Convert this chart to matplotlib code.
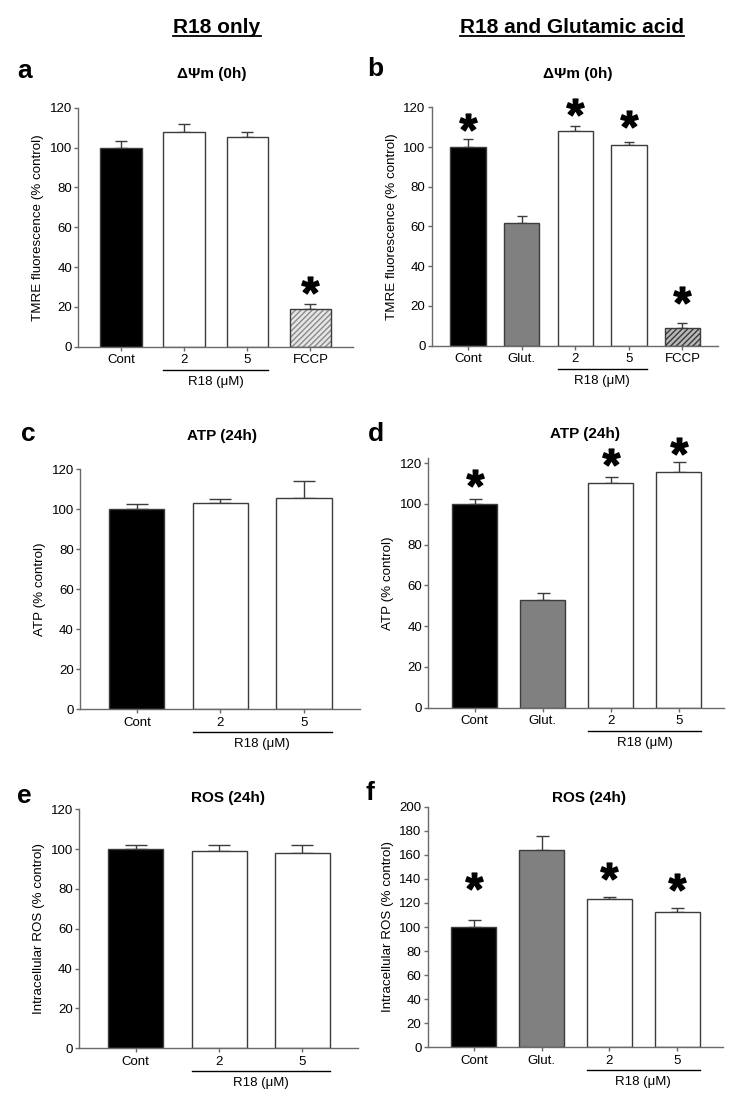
import matplotlib
matplotlib.use('Agg')
import matplotlib.pyplot as plt
import numpy as np
from matplotlib.textpath import TextPath
from matplotlib.path import Path
from matplotlib.font_manager import FontProperties
from matplotlib.lines import Line2D
from matplotlib.transforms import offset_copy

plt.rcParams['font.family'] = ['Liberation Sans', 'DejaVu Sans']

# ---------------- data ----------------
cats_a = ['Cont', '2', '5', 'FCCP']
mean_a = [100, 107.6, 105.1, 19.1]
err_a = [3.4, 4.0, 2.9, 2.2]
sig_a = [False, False, False, True]

cats_b = ['Cont', 'Glut.', '2', '5', 'FCCP']
mean_b = [100.2, 61.9, 108.3, 101.2, 9.1]
err_b = [3.9, 3.4, 2.5, 1.4, 2.1]
sig_b = [True, False, True, True, True]

cats_c = ['Cont', '2', '5']
mean_c = [100, 103, 105.8]
err_c = [2.8, 2.0, 8.5]
sig_c = [False, False, False]

cats_d = ['Cont', 'Glut.', '2', '5']
mean_d = [99.9, 52.9, 110.5, 115.6]
err_d = [2.5, 3.3, 2.5, 4.9]
sig_d = [True, False, True, True]

cats_e = ['Cont', '2', '5']
mean_e = [99.9, 99.2, 98.2]
err_e = [2.0, 3.0, 3.7]
sig_e = [False, False, False]

cats_f = ['Cont', 'Glut.', '2', '5']
mean_f = [99.7, 164, 123.5, 112.7]
err_f = [6.1, 11.9, 1.7, 3.1]
sig_f = [True, False, True, True]

titles = {'a': 'ΔΨm (0h)', 'b': 'ΔΨm (0h)', 'c': 'ATP (24h)',
          'd': 'ATP (24h)', 'e': 'ROS (24h)', 'f': 'ROS (24h)'}
ylabels = {'a': 'TMRE fluorescence (% control)', 'b': 'TMRE fluorescence (% control)',
           'c': 'ATP (% control)', 'd': 'ATP (% control)',
           'e': 'Intracellular ROS (% control)', 'f': 'Intracellular ROS (% control)'}
group_label = 'R18 (μM)'
col_headers = ['R18 only', 'R18 and Glutamic acid']

# ---------------- style / layout ----------------
W, H = 735, 1099
fig = plt.figure(figsize=(W / 100, H / 100), dpi=100)

# (left, right, top, bottom) in pixels, plus ylim top and tick step
layout = {
    'a': ((78.3, 352.7, 107.7, 346.7), 120, 20),
    'b': ((431.7, 718.3, 107.3, 345.7), 120, 20),
    'c': ((80.0, 360.0, 469.3, 709.3), 120, 20),
    'd': ((428.3, 724.3, 458.3, 707.7), 122.4, 20),
    'e': ((79.0, 358.3, 809.3, 1048.3), 120, 20),
    'f': ((427.7, 722.7, 806.7, 1047.3), 200, 20),
}
capsize_px = {'a': 12, 'b': 10, 'c': 23, 'd': 13, 'e': 22, 'f': 13}
star_gap_px = {'a': [19], 'b': [17, 19, 23, 28], 'd': [21, 20, 16], 'f': [39, 26, 26]}
letter_pos = {'a': (17, 78.5), 'b': (367, 76.5), 'c': (21, 441), 'd': (368, 441),
              'e': (17, 803), 'f': (366, 800)}
title_pos = {'a': (211.5, 78.3), 'b': (578, 78.3), 'c': (221.5, 440), 'd': (585, 438),
             'e': (228, 802), 'f': (588.5, 802)}

panels = {
    'a': (cats_a, mean_a, err_a, sig_a),
    'b': (cats_b, mean_b, err_b, sig_b),
    'c': (cats_c, mean_c, err_c, sig_c),
    'd': (cats_d, mean_d, err_d, sig_d),
    'e': (cats_e, mean_e, err_e, sig_e),
    'f': (cats_f, mean_f, err_f, sig_f),
}

AX_COL = '#6a6a6a'
EDGE = '#3c3c3c'
BW = 0.66

# star marker path (bold asterisk, centered)
fp_star = FontProperties(family='Liberation Sans', weight='bold')
tp = TextPath((0, 0), '*', prop=fp_star, size=1)
codes = tp.codes
verts = np.array(tp.vertices, dtype=float)
real = codes != Path.CLOSEPOLY
cx = (verts[real, 0].min() + verts[real, 0].max()) / 2
cy = (verts[real, 1].min() + verts[real, 1].max()) / 2
verts = verts - [cx, cy]
verts[~real] = 0.0
star_path = Path(verts, codes)


def fy(y):
    return 1 - y / H


def fx(x):
    return x / W


for key, (cats, mean, err, sig) in panels.items():
    (l, r, t, b), ytop, step = layout[key]
    ax = fig.add_axes([fx(l), fy(b), (r - l) / W, (b - t) / H])
    n = len(cats)
    x = np.arange(n)
    for i, c in enumerate(cats):
        if c == 'Cont':
            ax.bar(i, mean[i], BW, color='black', edgecolor=EDGE, linewidth=1, zorder=2)
        elif c.startswith('Glut'):
            ax.bar(i, mean[i], BW, color='#808080', edgecolor=EDGE, linewidth=1, zorder=2)
        elif c == 'FCCP':
            if key == 'a':
                fc, hc = '#e6e6e6', '#8a8a8a'
            else:
                fc, hc = '#b8b8b8', '#3a3a3a'
            ax.bar(i, mean[i], BW, color=fc, edgecolor=hc, linewidth=0,
                   hatch='//////', zorder=2)
            ax.bar(i, mean[i], BW, fill=False, edgecolor=EDGE, linewidth=1, zorder=3)
        else:
            ax.bar(i, mean[i], BW, color='white', edgecolor=EDGE, linewidth=1, zorder=2)
    cap_pt = capsize_px[key] / 2 * 0.72
    ax.errorbar(x, mean, yerr=[np.zeros(n), err], fmt='none', ecolor=EDGE,
                elinewidth=1, capsize=cap_pt, capthick=1, zorder=1)
    # significance stars
    gaps = star_gap_px.get(key, [])
    k = 0
    for i in range(n):
        if sig[i]:
            tr = offset_copy(ax.transData, fig=fig, x=0, y=gaps[k], units='dots')
            ax.plot([i], [mean[i] + err[i]], marker=star_path, markersize=12.5,
                    color='black', linestyle='none', transform=tr, clip_on=False, zorder=5)
            k += 1
    ax.set_xlim(-0.68, n - 1 + 0.67)
    ax.set_ylim(0, ytop)
    ax.set_yticks(np.arange(0, ytop + 0.1, step))
    ax.set_xticks(x)
    ax.set_xticklabels(cats)
    for s in ['top', 'right']:
        ax.spines[s].set_visible(False)
    for s in ['left', 'bottom']:
        ax.spines[s].set_color(AX_COL)
        ax.spines[s].set_linewidth(1)
    ax.tick_params(axis='both', colors=AX_COL, labelcolor='black', labelsize=9.5,
                   length=3, width=1, direction='out')
    ax.tick_params(axis='x', pad=2.5)
    ax.tick_params(axis='y', pad=1.5)
    ax.set_ylabel(ylabels[key], fontsize=9.6, labelpad=4)
    # group bracket under the R18 concentrations
    idx = [i for i, c in enumerate(cats) if c in ('2', '5')]
    x0, x1 = idx[0] - BW / 2, idx[-1] + BW / 2
    hpx = b - t
    ax.plot([x0, x1], [-23 / hpx, -23 / hpx], color='black', lw=1,
            transform=ax.get_xaxis_transform(), clip_on=False)
    ax.text((x0 + x1) / 2, -35 / hpx, group_label, ha='center', va='center',
            fontsize=9.5, transform=ax.get_xaxis_transform())
    # panel letter & title
    lx, ly = letter_pos[key]
    fig.text(fx(lx), fy(ly), key, fontsize=19, fontweight='bold', ha='left', va='baseline')
    tx, ty = title_pos[key]
    fig.text(fx(tx), fy(ty), titles[key], fontsize=11, fontweight='bold',
             ha='center', va='baseline')

# column headers with underline
hdr = []
for cx_, s in zip([217, 572], col_headers):
    hdr.append(fig.text(fx(cx_), fy(33.3), s, fontsize=15, fontweight='bold',
                        ha='center', va='baseline'))
fig.canvas.draw()
rend = fig.canvas.get_renderer()
for tobj in hdr:
    bb = tobj.get_window_extent(renderer=rend)
    yl = fy(35.5)
    fig.add_artist(Line2D([bb.x0 / W, bb.x1 / W], [yl, yl], color='black', lw=1.3,
                          transform=fig.transFigure))

fig.savefig('out.png', dpi=100)
